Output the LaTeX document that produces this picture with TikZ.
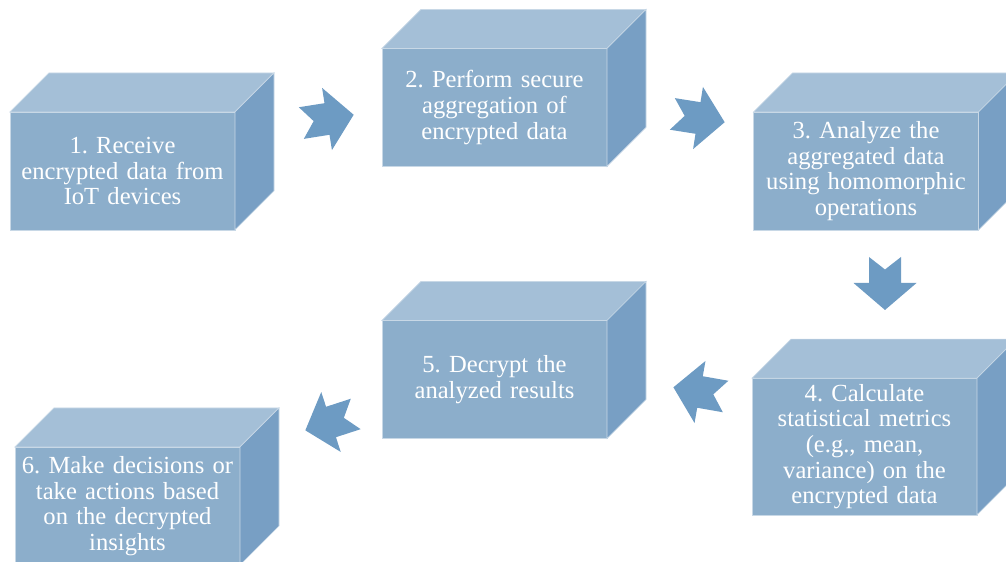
\documentclass[tikz,border=0pt]{standalone}
\usepackage{fontspec}
\setmainfont{Liberation Serif}
\usepackage{tikz}
\usetikzlibrary{calc}
\definecolor{frontc}{HTML}{8CAECB}
\definecolor{topc}{HTML}{A4BFD7}
\definecolor{sidec}{HTML}{789FC4}
\definecolor{arrowc}{HTML}{6D9BC3}
\definecolor{edgec}{HTML}{C8D8E6}
\frenchspacing

% top and right faces of a box node
\newcommand{\cubesides}[1]{%
    \filldraw[face, fill=topc] (#1.north west) -- ++(0.78,0.78) -- ($(#1.north east)+(0.78,0.78)$) -- (#1.north east) -- cycle;
    \filldraw[face, fill=sidec] (#1.north east) -- ++(0.78,0.78) -- ($(#1.south east)+(0.78,0.78)$) -- (#1.south east) -- cycle;
}

\begin{document}
\begin{tikzpicture}[
    stepbox/.style={draw=edgec, line width=0.4pt, fill=frontc, outer sep=0pt,
                    inner xsep=0.1cm, minimum width=4.5cm, minimum height=2.36cm,
                    text width=4.3cm, align=center, text=white,
                    font=\fontsize{14}{14.6}\selectfont},
    face/.style={draw=edgec, line width=0.4pt},
    notch/.pic={\fill[arrowc] (-0.52,0.32) -- (0,0.32) -- (0,0.63) -- (0.54,0)
                -- (0,-0.63) -- (0,-0.32) -- (-0.52,-0.32) -- (-0.27,0) -- cycle;},
]
    \useasboundingbox (0,0) rectangle (20.12,11.24);

    \node[stepbox] (recv)    at (2.45,7.82)  {1. Receive\\encrypted data from\\IoT devices};
    \node[stepbox] (aggr)    at (9.89,9.09)  {2. Perform secure\\aggregation of\\encrypted data};
    \node[stepbox] (analyze) at (17.32,7.82) {3. Analyze the\\aggregated data\\using homomorphic\\operations};
    \node[stepbox, minimum height=2.66cm] (metrics) at (17.29,2.31) {4. Calculate\\statistical metrics\\(e.g., mean,\\variance) on the\\encrypted data};
    \node[stepbox] (decrypt) at (9.89,3.65)  {5. Decrypt the\\analyzed results};
    \node[stepbox] (act)     at (2.55,1.12)  {6. Make decisions or\\take actions based\\on the decrypted\\insights};

    \cubesides{recv}
    \cubesides{aggr}
    \cubesides{analyze}
    \cubesides{metrics}
    \cubesides{decrypt}
    \cubesides{act}

    % block arrows between the steps
    \pic[rotate=9]   at (6.54,8.86)  {notch};
    \pic[rotate=-9]  at (13.96,8.88) {notch};
    \pic[rotate=-90] at (17.70,5.58) {notch};
    \pic[rotate=170] at (14.00,3.40) {notch};
    \pic[rotate=198] at (6.62,2.80)  {notch};
\end{tikzpicture}
\end{document}
